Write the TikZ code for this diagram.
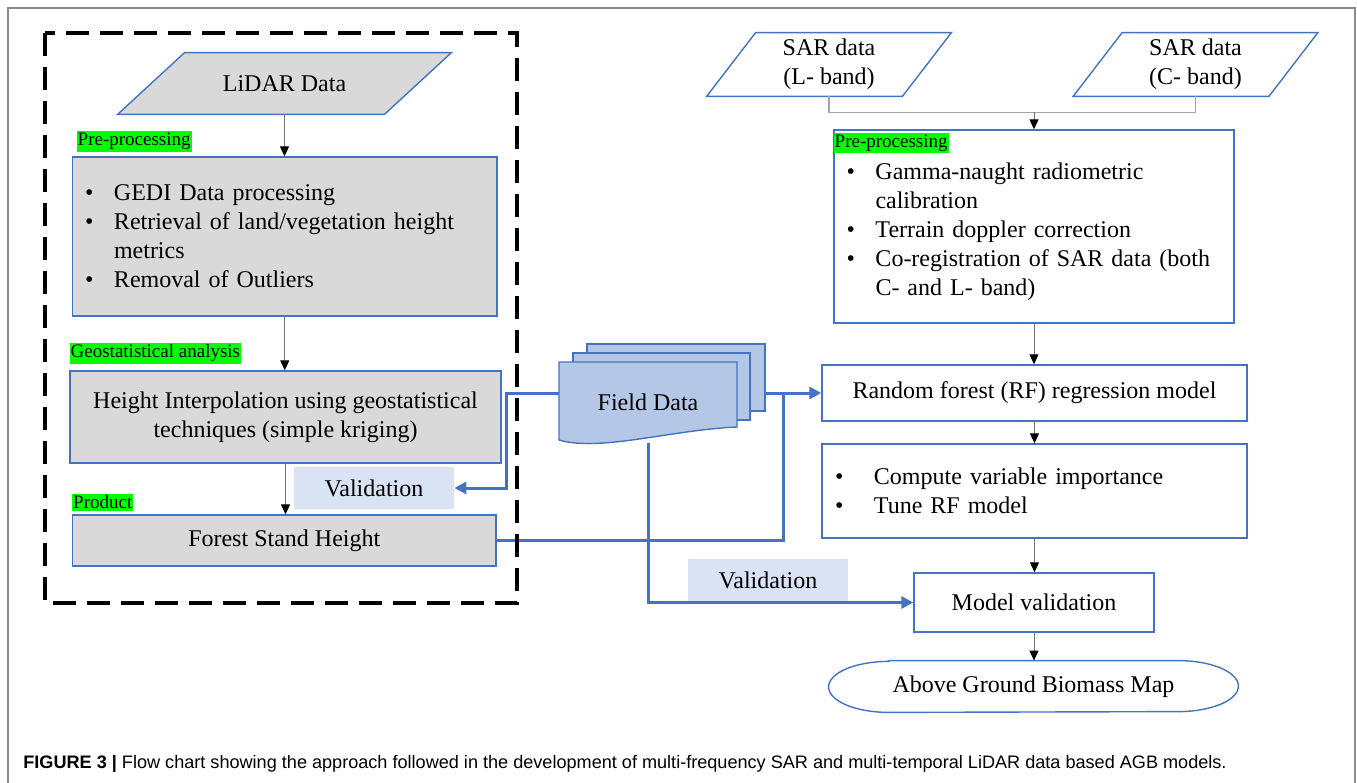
\documentclass[tikz,border=0pt]{standalone}
\usepackage{fontspec}
\setmainfont{Liberation Serif}
\newfontfamily\capfont{Liberation Sans}
\usetikzlibrary{arrows.meta,backgrounds,calc}
\definecolor{boxblue}{HTML}{4472C4}
\definecolor{boxgray}{HTML}{D9D9D9}
\definecolor{labblue}{HTML}{DAE3F3}
\definecolor{docblue}{HTML}{B4C7E7}
\definecolor{hlgreen}{HTML}{00FF00}
\definecolor{framegray}{HTML}{8C8C8C}
\newcommand{\mainsize}{\fontsize{12pt}{14.5pt}\selectfont}
\newcommand{\bul}[1][14.5pt]{\makebox[#1][l]{\textbullet}}
% slanted data box round a plain node: node, half offset, fill
\newcommand{\iopath}[3]{%
	\filldraw[draw=boxblue, line width=0.7pt, fill=#3] ([xshift=#2]#1.north west) -- ([xshift=#2]#1.north east)
	-- ([xshift=-#2]#1.south east) -- ([xshift=-#2]#1.south west) -- cycle;}
\tikzset{
	flowbox/.style={draw=boxblue, line width=0.7pt, font=\mainsize, align=center, inner sep=0pt},
	graybox/.style={flowbox, fill=boxgray},
	databox/.style={font=\mainsize, align=center, inner sep=0pt},
	greenlab/.style={fill=hlgreen, font=\fontsize{9.5pt}{11pt}\selectfont, inner xsep=0.5pt, inner ysep=1pt},
	vallab/.style={fill=labblue, font=\mainsize, minimum width=80pt, minimum height=21pt, inner sep=0pt},
	docstyle/.style={draw=boxblue, fill=docblue, line width=0.7pt},
	thinarrow/.style={draw=black!55, line width=0.5pt, -{Triangle[length=5pt,width=4.5pt,color=black]}},
	thinline/.style={draw=black!35, line width=0.6pt},
	bluearrow/.style={draw=boxblue, line width=1.5pt, -{Triangle[length=6pt,width=6pt]}},
	blueline/.style={draw=boxblue, line width=1.5pt}
}
\begin{document}
\begin{tikzpicture}[x=0.5pt,y=-0.5pt]
	\useasboundingbox (0,0) rectangle (1357,783);
	\draw[framegray, line width=0.75pt] (8,783) |- (1355,8) -- (1355,783);
	% left part: LiDAR
	\node[databox, minimum width=133pt, minimum height=30.5pt] (lidar) at (284.5,83.5) {LiDAR Data};
	\node[graybox, minimum height=79.5pt, text width=199.75pt, inner xsep=6.25pt, align=left]
		(pre1) at (284.75,236.5) {\bul GEDI Data processing\\
		\bul Retrieval of land/vegetation height\\
		\hspace*{14.5pt}metrics\\
		\bul Removal of Outliers};
	\node[graybox, minimum width=215.5pt, minimum height=46pt] (geo) at (285.5,417)
		{Height Interpolation using geostatistical\\ techniques (simple kriging)};
	\node[graybox, minimum width=211.75pt, minimum height=25.5pt] (fsh) at (284.25,540.5)
		{Forest Stand Height};
	\node[greenlab, anchor=south west] (prelab) at ([shift={(2.25pt,2pt)}]pre1.north west) {Pre-processing};
	\node[greenlab, anchor=south west] (geolab) at ([shift={(0pt,3pt)}]geo.north west) {Geostatistical analysis};
	\node[greenlab, anchor=south west] (prodlab) at ([shift={(0pt,1.5pt)}]fsh.north west) {Product};
	\node[vallab] (val1) at (374,488) {Validation};
	\draw[thinarrow] (lidar.south) -- (lidar.south |- pre1.north);
	\draw[thinarrow] (pre1.south) -- (pre1.south |- geo.north);
	\draw[thinarrow] (geo.south) -- (geo.south |- fsh.north);
	% field data
	\filldraw[docstyle] (587,344) rectangle (765,411);
	\filldraw[docstyle] (573,353) rectangle (750,420);
	\filldraw[docstyle] (559,362) -- (737,362) -- (737,427)
		.. controls (670,430) and (600,452) .. (559,440) -- cycle;
	\node[font=\mainsize, minimum width=89pt, minimum height=41pt, inner sep=0pt] (field) at (648,402) {Field Data};
	\coordinate (fieldback) at (765,393);
	\coordinate (fshjoin) at (783,393);
	% right part: SAR
	\node[databox, minimum width=97.5pt, minimum height=31.5pt] (sarl) at (829,64.5) {SAR data\\(L- band)};
	\node[databox, minimum width=97.5pt, minimum height=31.5pt] (sarc) at (1195.5,64.5) {SAR data\\(C- band)};
	\begin{scope}[on background layer]
		\iopath{lidar}{16.75pt}{boxgray}
		\iopath{sarl}{12.25pt}{white}
		\iopath{sarc}{12.25pt}{white}
	\end{scope}
	\node[flowbox, minimum height=96.5pt, text width=187.5pt, inner xsep=6.25pt, align=left]
		(pre2) at (1034,226.5) {\rule{0pt}{13.2pt}\bul Gamma-naught radiometric\\
		\hspace*{14.5pt}calibration\\
		\bul Terrain doppler correction\\
		\bul Co-registration of SAR data (both\\
		\hspace*{14.5pt}C- and L- band)};
	\node[greenlab, anchor=north west] (pre2lab) at ([shift={(0pt,-1.5pt)}]pre2.north west) {Pre-processing};
	\node[flowbox, minimum width=212.5pt, minimum height=28pt] (rf) at (1034.5,393)
		{Random forest (RF) regression model};
	\node[flowbox, minimum height=47pt, text width=199.5pt, inner xsep=6.5pt, align=left]
		(comp) at (1034.5,491) {\bul[19.5pt]Compute variable importance\\
		\bul[19.5pt]Tune RF model};
	\node[flowbox, minimum width=120pt, minimum height=29.5pt] (mval) at (1034,602.5) {Model validation};
	\node[font=\mainsize, minimum width=204.5pt, minimum height=25.5pt, inner sep=0pt] (agb) at (1033.5,686.5)
		{Above Ground Biomass Map};
	\draw[boxblue, line width=0.7pt] ([xshift=30pt]agb.north west) -- ([xshift=-30pt]agb.north east)
		arc[start angle=90, end angle=-90, x radius=30pt, y radius=12.75pt]
		-- ([xshift=30pt]agb.south west)
		arc[start angle=270, end angle=90, x radius=30pt, y radius=12.75pt] -- cycle;
	\coordinate (sarjoin) at ($(pre2.north)+(0,-17)$);
	\draw[thinline] (sarl.south) |- (sarjoin) -| (sarc.south);
	\draw[thinarrow] (sarjoin) -- (pre2.north);
	\draw[thinarrow] (pre2.south) -- (pre2.south |- rf.north);
	\draw[thinarrow] (rf.south) -- (rf.south |- comp.north);
	\draw[thinarrow] (comp.south) -- (comp.south |- mval.north);
	\draw[thinarrow] (mval.south) -- (mval.south |- agb.north);
	% blue connectors
	\node[vallab] (val2) at (768,580) {Validation};
	\draw[bluearrow] (field.west |- rf.west) -- ++(-52,0) |- (val1.east);
	\draw[bluearrow] (fieldback) -- (rf.west);
	\draw[blueline] (fsh.east) -| (fshjoin);
	\draw[bluearrow] (field.south) |- (mval.west);
	% dashed frame
	\draw[line width=1.75pt, dash pattern=on 11.5pt off 5.5pt] (45,33) rectangle (517,603);
	\node[anchor=base west, inner sep=0pt, font=\capfont\fontsize{9.05pt}{11pt}\selectfont] (caption) at (23,768)
		{\textbf{FIGURE 3 |} Flow chart showing the approach followed in the development of multi-frequency SAR and multi-temporal LiDAR data based AGB models.};
\end{tikzpicture}
\end{document}
